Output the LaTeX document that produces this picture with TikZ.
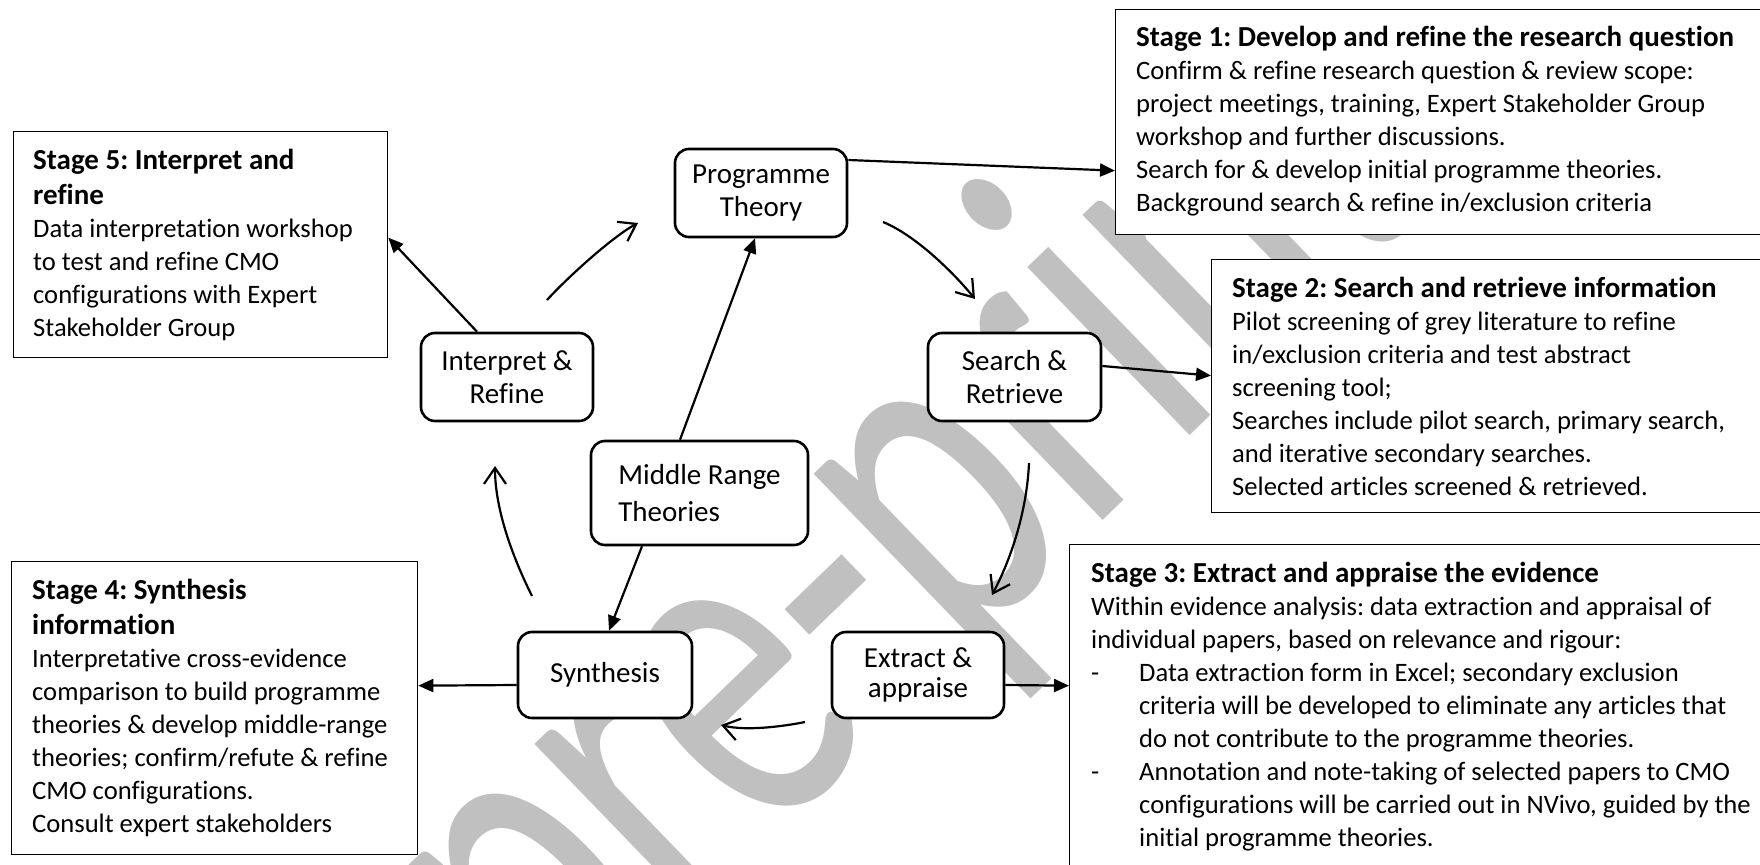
\documentclass[tikz,border=0pt]{standalone}
\usepackage{fontspec}
\setmainfont{Carlito}[Ligatures=CommonOff]
\usetikzlibrary{arrows.meta,calc}
\definecolor{wmgray}{RGB}{192,192,192}
\newcommand\bodyf{\fontsize{26.6pt}{33pt}\selectfont\mdseries}
\newcommand\titlef{\fontsize{29pt}{35pt}\selectfont\bfseries}
\newcommand\nodef{\fontsize{29pt}{33pt}\selectfont}
\frenchspacing
\tikzset{
  stagebox/.style={draw, line width=1.3pt, fill=white, inner sep=0pt, anchor=north west},
  procbox/.style={draw, line width=2.6pt, rounded corners=14pt, fill=white, inner sep=0pt, align=center, font=\nodef},
  textblk/.style={anchor=base west, inner sep=0pt},
  solidarrow/.style={line width=2.2pt, -{Triangle[length=15pt,width=13pt]}},
  openarrow/.style={line width=2.2pt, -{Straight Barb[length=16pt,width=22pt]}},
  wmark/.style={anchor=base west, inner sep=0pt, text=wmgray, font=\fontsize{339pt}{339pt}\selectfont, rotate=44, yscale=1.443, transform shape}
}
\begin{document}
\begin{tikzpicture}[x=1pt,y=-1pt]
\useasboundingbox (0,0) rectangle (1760,864);
\clip (0,0) rectangle (1760,864);
\fill[white] (0,0) rectangle (1760,864);
% watermark
\begin{scope}[shift={(553,1051)}]
\node[wmark] (wm) at (0,0) {pre-print};
\end{scope}
% stage boxes
\node[stagebox, minimum width=374pt, minimum height=226pt] (s5) at (13,131) {};
\node[stagebox, minimum width=675pt, minimum height=225pt] (s1) at (1115,9) {};
\node[stagebox, minimum width=579pt, minimum height=253pt] (s2) at (1211,259) {};
\node[stagebox, minimum width=721pt, minimum height=356pt] (s3) at (1069,544) {};
\node[stagebox, minimum width=406pt, minimum height=293pt] (s4) at (11,561) {};
% stage texts
\node[textblk] (s5t) at (33,169) {\parbox[t]{360pt}{\raggedright\titlef Stage 5: Interpret and\\refine\par\bodyf Data interpretation workshop\\to test and refine CMO\\configurations with Expert\\Stakeholder Group}};
\node[textblk] (s1t) at (1136,47) {\parbox[t]{640pt}{\raggedright\titlef Stage 1: Develop and refine the research question\par\bodyf Confirm \& refine research question \& review scope:\\project meetings, training, Expert Stakeholder Group\\workshop and further discussions.\\Search for \& develop initial programme theories.\\Background search \& refine in/exclusion criteria}};
\node[textblk] (s2t) at (1232,297) {\parbox[t]{540pt}{\raggedright\titlef Stage 2: Search and retrieve information\par\bodyf Pilot screening of grey literature to refine\\in/exclusion criteria and test abstract\\screening tool;\\Searches include pilot search, primary search,\\and iterative secondary searches.\\Selected articles screened \& retrieved.}};
\node[textblk] (s3t) at (1091,582) {\parbox[t]{680pt}{\raggedright\titlef Stage 3: Extract and appraise the evidence\par\bodyf Within evidence analysis: data extraction and appraisal of\\individual papers, based on relevance and rigour:\\\makebox[48pt][l]{-}Data extraction form in Excel; secondary exclusion\\\hspace*{48pt}criteria will be developed to eliminate any articles that\\\hspace*{48pt}do not contribute to the programme theories.\\\makebox[48pt][l]{-}Annotation and note-taking of selected papers to CMO\\\hspace*{48pt}configurations will be carried out in NVivo, guided by the\\\hspace*{48pt}initial programme theories.}};
\node[textblk] (s4t) at (32,599) {\parbox[t]{380pt}{\raggedright\titlef Stage 4: Synthesis\\information\par\bodyf Interpretative cross-evidence\\comparison to build programme\\theories \& develop middle-range\\theories; confirm/refute \& refine\\CMO configurations.\\Consult expert stakeholders}};
% process nodes
\node[procbox, minimum width=172pt, minimum height=88pt] (pt) at (761,193) {Programme\\Theory};
\node[procbox, minimum width=172pt, minimum height=88pt] (ir) at (507,377) {Interpret \&\\Refine};
\node[procbox, minimum width=173pt, minimum height=88pt] (sr) at (1014.5,377) {Search \&\\Retrieve};
\node[procbox, minimum width=217pt, minimum height=104pt, align=left] (mrt) at (699.5,493) {Middle Range\\[4pt]Theories};
\node[procbox, minimum width=174pt, minimum height=86pt] (syn) at (605,675) {Synthesis};
\node[procbox, minimum width=172pt, minimum height=86pt] (ea) at (918,675) {Extract \&\\[-3pt]appraise};
% straight connectors
\draw[solidarrow] ([xshift=-19.5pt]mrt.north) -- ([xshift=-6pt]pt.south);
\draw[solidarrow] ([xshift=-30pt]ir.north) -- ([yshift=7pt]s5.east);
\draw[solidarrow] ([yshift=33pt]pt.east) -- ([yshift=-48.5pt]s1.west);
\draw[solidarrow] ([yshift=11pt]sr.east) -- ([yshift=10.5pt]s2.west);
\draw[solidarrow] ([xshift=-57.5pt]mrt.south) -- ([xshift=4pt]syn.north);
\draw[solidarrow] ([yshift=-10pt]syn.west) -- ([yshift=22.5pt]s4.east);
\draw[solidarrow] ([yshift=-10pt]ea.east) -- ([yshift=37pt]s3.west);
% cycle arrows
\coordinate (a1) at (547,300); \coordinate (a2) at (638,223);
\coordinate (b1) at (883,222); \coordinate (b2) at (975,299);
\coordinate (c1) at (1029,463); \coordinate (c2) at (992,595);
\coordinate (d1) at (805,722); \coordinate (d2) at (721,725);
\coordinate (e1) at (532,596); \coordinate (e2) at (495,466);
\draw[openarrow] (a1) .. controls (567,278) and (612,237) .. (a2);
\draw[openarrow] (b1) .. controls (915,235) and (953,272) .. (b2);
\draw[openarrow] (c1) .. controls (1027,508) and (1013,555) .. (c2);
\draw[openarrow] (d1) .. controls (780,727) and (745,731) .. (d2);
\draw[openarrow] (e1) .. controls (514,560) and (495,511) .. (e2);
\end{tikzpicture}
\end{document}
